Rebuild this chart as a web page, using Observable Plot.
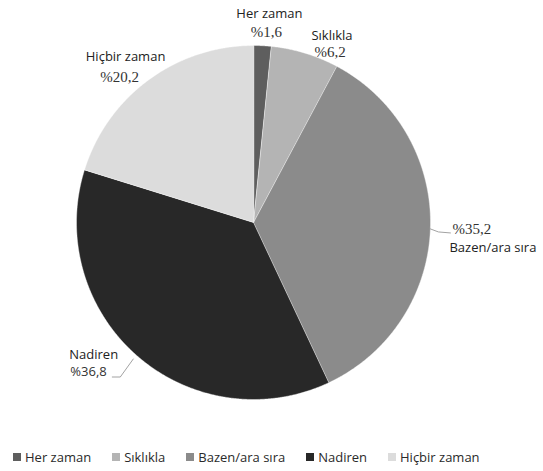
<!DOCTYPE html>
<html><head><meta charset="utf-8">
<script src="https://cdn.jsdelivr.net/npm/d3@7"></script>
<script src="https://cdn.jsdelivr.net/npm/@observablehq/plot@0.6"></script>
<style>
body{margin:0;background:#fff;font-family:"Open Sans",sans-serif;}
#chart svg{display:block;}
#legend{display:flex;align-items:center;padding-left:13px;margin-top:4px;height:16px;font-size:13px;color:#2a2a2a;gap:21px;}
#legend .item{display:flex;align-items:center;white-space:nowrap;}
#legend .sw{width:8px;height:8px;margin-right:4px;}
</style></head><body>
<div id="chart"></div>
<div id="legend"></div>
<script>
const categories = ["Her zaman", "Sıklıkla", "Bazen/ara sıra", "Nadiren", "Hiçbir zaman"];
const percents = [1.6, 6.2, 35.2, 36.8, 20.2];
const percentLabels = ["%1,6", "%6,2", "%35,2", "%36,8", "%20,2"];
const sliceColors = ["#5e5e5e", "#b4b4b4", "#8b8b8b", "#282828", "#dcdcdc"];

// layout (pixel offsets of labels from slice mid-edge)
const R = 177, CX = 253, CY = 222, W = 543, H = 445;
const layout = {
  "Her zaman":      {nx: 7,   ny: -32, px: 4,   py: -14, anchor: "middle", pctSerif: true},
  "Sıklıkla":       {nx: 27,  ny: -17, px: 25,  py: -1,  anchor: "middle", pctSerif: true},
  "Bazen/ara sıra": {nx: 19,  ny: 21,  px: 22,  py: 2,   anchor: "start",  pctSerif: true},
  "Nadiren":        {nx: -68, ny: -1,  px: -67, py: 16,  anchor: "start",  pctSerif: false},
  "Hiçbir zaman":   {nx: -23, ny: -23, px: -29, py: -3,  anchor: "middle", pctSerif: true}
};

const data = categories.map((c, i) => ({cat: c, value: percents[i], pct: percentLabels[i]}));
const arcs = d3.pie().sort(null).value(d => d.value).startAngle(0).endAngle(2 * Math.PI)(data);

const polyPts = [];
const labels = [];
arcs.forEach(a => {
  const c = a.data.cat;
  polyPts.push({cat: c, x: 0, y: 0});
  const n = Math.max(2, Math.ceil((a.endAngle - a.startAngle) / 0.005));
  for (let k = 0; k <= n; k++) {
    const t = a.startAngle + (a.endAngle - a.startAngle) * k / n;
    polyPts.push({cat: c, x: Math.sin(t), y: Math.cos(t)});
  }
  const mid = (a.startAngle + a.endAngle) / 2;
  labels.push({cat: c, pct: a.data.pct, x: Math.sin(mid), y: Math.cos(mid), ...layout[c]});
});

// leader lines (Bazen and Nadiren), built from mid-edge points
const leaders = [];
labels.forEach(l => {
  if (l.cat === "Bazen/ara sıra") {
    leaders.push({cat: l.cat, x: l.x, y: l.y - 2 / R});
    leaders.push({cat: l.cat, x: l.x + 8 / R, y: l.y - 5 / R});
    leaders.push({cat: l.cat, x: l.x + 20 / R, y: l.y - 6 / R});
  }
  if (l.cat === "Nadiren") {
    leaders.push({cat: l.cat, x: l.x - 4 / R, y: l.y - 3 / R});
    leaders.push({cat: l.cat, x: l.x - 17 / R, y: l.y - 21 / R});
    leaders.push({cat: l.cat, x: l.x - 25 / R, y: l.y - 21 / R});
  }
});

const marks = [
  Plot.line(polyPts, {x: "x", y: "y", z: "cat", fill: "cat", stroke: "#ffffff", strokeWidth: 0.6, strokeOpacity: 0.7, curve: "linear-closed"}),
  Plot.line(leaders, {x: "x", y: "y", z: "cat", stroke: "#8a8a8a", strokeWidth: 0.8})
];
labels.forEach(l => {
  marks.push(Plot.text([l], {x: "x", y: "y", text: "cat", dx: l.nx, dy: l.ny, textAnchor: l.anchor, fontSize: 13, fontFamily: "Open Sans", fill: "#222"}));
  marks.push(Plot.text([l], {x: "x", y: "y", text: "pct", dx: l.px, dy: l.py, textAnchor: l.anchor,
    fontSize: l.pctSerif ? 15 : 13, fontFamily: l.pctSerif ? "Liberation Serif" : "Open Sans", fill: "#333"}));
});

const plot = Plot.plot({
  width: W, height: H, margin: 0,
  x: {domain: [-1, 1], range: [CX - R, CX + R], axis: null},
  y: {domain: [-1, 1], range: [CY + R, CY - R], axis: null},
  color: {domain: categories, range: sliceColors},
  style: {background: "#fff"},
  marks
});
document.getElementById("chart").appendChild(plot);

const leg = document.getElementById("legend");
categories.forEach((c, i) => {
  const it = document.createElement("div"); it.className = "item";
  const sw = document.createElement("span"); sw.className = "sw"; sw.style.background = sliceColors[i];
  const tx = document.createElement("span"); tx.textContent = c;
  it.appendChild(sw); it.appendChild(tx); leg.appendChild(it);
});
</script>
</body></html>
